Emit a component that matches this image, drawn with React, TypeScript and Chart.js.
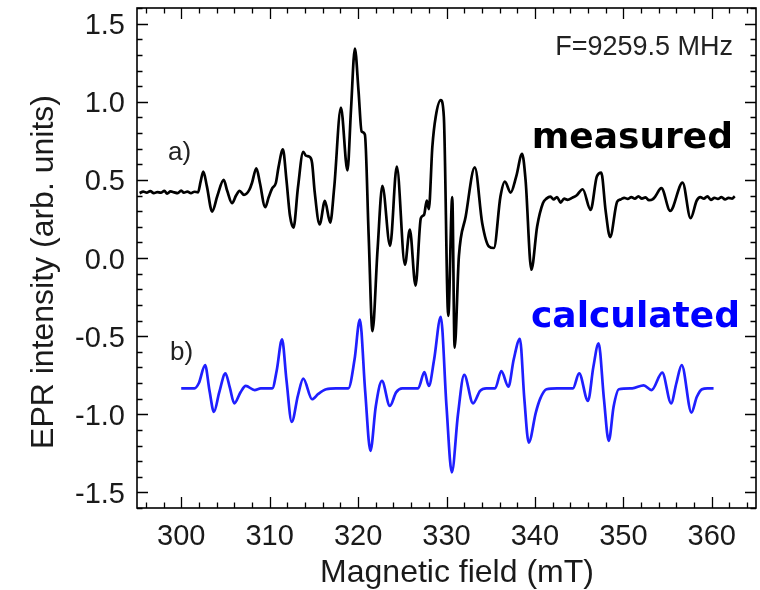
import React, { useEffect, useRef } from "react";
import { Chart, registerables } from "chart.js";

Chart.register(...registerables);

// Measured EPR spectrum (a)
const measuredField = [
  295.3, 295.7, 296.1, 296.5, 296.9, 297.3, 297.7, 298.1, 298.4, 298.8, 299.2, 299.6, 300.0, 300.3, 300.7, 301.1, 301.5, 301.9,
  302.2, 302.5, 302.9, 303.5, 304.1, 304.8, 305.2, 305.75, 306.2, 306.6, 307.1, 307.7, 308.0, 308.5, 308.9, 309.5, 309.9,
  310.3, 310.7, 311.0, 311.5, 311.9, 312.3, 312.7, 313.2, 313.8, 314.1, 314.5, 314.8, 315.1, 315.65, 316.25, 316.85, 317.3,
  318.06, 318.8, 319.2, 319.64, 320.05, 320.4, 320.77, 321.2, 321.63, 322.2, 322.75, 323.62, 324.38, 325.3, 325.85, 326.5,
  327.1, 327.46, 327.77, 328.0, 328.4, 328.78, 329.35, 329.7, 330.2, 330.65, 330.92, 331.4, 332.17, 333.2, 334.04, 334.8,
  335.36, 336.1, 336.6, 337.25, 337.88, 338.55, 338.94, 339.6, 340.25, 340.9, 341.3, 341.76, 342.1, 342.5, 342.9, 343.3,
  343.7, 344.2, 344.7, 345.4, 346.3, 347.0, 347.5, 348.0, 348.5, 349.3, 349.7, 350.1, 350.5, 350.9, 351.3, 351.7, 352.1,
  352.5, 352.9, 353.3, 353.6, 354.3, 355.3, 356.7, 357.6, 358.3, 358.7, 359.1, 359.5, 359.9, 360.3, 360.7, 361.1, 361.5,
  361.9, 362.3, 362.6,
];
const measuredIntensity = [
  0.415, 0.425, 0.418, 0.428, 0.415, 0.422, 0.418, 0.43, 0.412, 0.426, 0.42, 0.415, 0.432, 0.418, 0.425, 0.415, 0.424, 0.42,
  0.49, 0.553, 0.46, 0.297, 0.4, 0.5, 0.43, 0.351, 0.4, 0.43, 0.404, 0.436, 0.48, 0.574, 0.48, 0.325, 0.39,
  0.447, 0.48, 0.58, 0.695, 0.5, 0.27, 0.195, 0.45, 0.68, 0.655, 0.648, 0.608, 0.42, 0.215, 0.365, 0.227, 0.45,
  0.962, 0.56, 0.95, 1.34, 1.07, 0.81, 0.79, 0.14, -0.468, 0.05, 0.461, 0.078, 0.585, -0.043, 0.181, -0.177,
  0.255, 0.276, 0.368, 0.313, 0.712, 0.904, 1.01, 0.904, -0.37, 0.39, -0.574, 0.01, 0.265, 0.58, 0.223, 0.074,
  0.064, 0.393, 0.489, 0.419, 0.521, 0.666, 0.5, -0.075, 0.202, 0.351, 0.38, 0.393, 0.375, 0.39, 0.355, 0.38,
  0.372, 0.385, 0.4, 0.44, 0.308, 0.521, 0.546, 0.3, 0.134, 0.361, 0.375, 0.385, 0.378, 0.39, 0.38, 0.395, 0.38,
  0.388, 0.37, 0.375, 0.393, 0.447, 0.302, 0.483, 0.255, 0.368, 0.39, 0.38, 0.395, 0.372, 0.385, 0.378, 0.39, 0.375,
  0.385, 0.38, 0.395,
];

// Calculated EPR spectrum (b)
const calculatedField = [
  300.0, 301.5, 302.0, 302.7, 303.2, 303.7, 304.3, 305.0, 305.5, 306.0, 306.7, 307.3, 308.3, 309.0, 310.3, 310.8, 311.4,
  311.9, 312.5, 313.2, 313.8, 314.8, 315.5, 316.4, 317.5, 318.9, 319.6, 320.2, 320.8, 321.4, 322.0, 322.7, 323.6, 324.3,
  325.0, 326.8, 327.5, 328.0, 328.6, 329.35, 330.0, 330.6, 331.3, 332.0, 333.0, 333.8, 334.5, 335.5, 336.2, 337.0, 337.6,
  338.3, 338.8, 339.3, 340.1, 340.6, 341.3, 342.5, 344.3, 345.0, 346.0, 346.6, 347.2, 347.8, 348.35, 348.9, 349.5, 351.0,
  352.3, 353.2, 354.4, 355.4, 356.0, 356.6, 357.7, 358.3, 358.9, 359.5, 360.2,
];
const calculatedIntensity = [
  -0.834, -0.834, -0.8, -0.685, -0.85, -0.985, -0.86, -0.738, -0.83, -0.93, -0.86, -0.819, -0.845, -0.834, -0.834, -0.72, -0.521,
  -0.78, -1.049, -0.88, -0.772, -0.904, -0.87, -0.84, -0.834, -0.834, -0.65, -0.394, -0.85, -1.234, -0.95, -0.787, -0.947, -0.86,
  -0.834, -0.834, -0.73, -0.819, -0.65, -0.377, -0.95, -1.372, -1.0, -0.748, -0.93, -0.85, -0.834, -0.834, -0.724, -0.823, -0.65,
  -0.517, -0.9, -1.181, -0.989, -0.9, -0.84, -0.834, -0.834, -0.738, -0.915, -0.7, -0.547, -0.9, -1.17, -0.95, -0.84, -0.834,
  -0.815, -0.845, -0.734, -0.93, -0.8, -0.685, -0.989, -0.89, -0.84, -0.834, -0.834,
];

// Axis tick labels
const xTickLabels = [300, 310, 320, 330, 340, 350, 360];
const yTickLabels = [-1.5, -1.0, -0.5, 0.0, 0.5, 1.0, 1.5];

const FONT = '"Liberation Sans", Arial, sans-serif';

const framePlugin = {
  id: "frameAndTicks",
  afterDraw(chart: any) {
    const { ctx, chartArea: a } = chart;
    const xs = chart.scales.x;
    const ys = chart.scales.y;
    ctx.save();
    ctx.strokeStyle = "#000";
    ctx.lineWidth = 1.3;
    ctx.beginPath();
    for (let v = 296; v <= 364.001; v += 2) {
      const px = Math.round(xs.getPixelForValue(v)) + 0.5;
      const major = Math.abs(v / 10 - Math.round(v / 10)) < 1e-6;
      const len = major ? 11 : 5.5;
      ctx.moveTo(px, a.bottom);
      ctx.lineTo(px, a.bottom - len);
      ctx.moveTo(px, a.top);
      ctx.lineTo(px, a.top + len);
    }
    for (let i = -16; i <= 16; i++) {
      const v = i / 10;
      const py = Math.round(ys.getPixelForValue(v)) + 0.5;
      const major = i % 5 === 0;
      const len = major ? 11 : 5.5;
      ctx.moveTo(a.left, py);
      ctx.lineTo(a.left + len, py);
      ctx.moveTo(a.right, py);
      ctx.lineTo(a.right - len, py);
    }
    ctx.stroke();
    ctx.lineWidth = 1.6;
    ctx.strokeRect(a.left, a.top, a.right - a.left, a.bottom - a.top);

    // tick labels
    ctx.fillStyle = "#1a1a1a";
    ctx.font = `29px ${FONT}`;
    ctx.textBaseline = "alphabetic";
    ctx.textAlign = "center";
    xTickLabels.forEach((v) => {
      ctx.fillText(String(v), xs.getPixelForValue(v), 545);
    });
    ctx.textAlign = "right";
    yTickLabels.forEach((v) => {
      ctx.fillText(v.toFixed(1), 125, ys.getPixelForValue(v) + 10.5);
    });

    // axis titles
    ctx.font = `32px ${FONT}`;
    ctx.textAlign = "center";
    ctx.fillText("Magnetic field (mT)", 457, 582);
    ctx.save();
    ctx.translate(53, 272);
    ctx.rotate(-Math.PI / 2);
    ctx.fillText("EPR intensity (arb. units)", 0, 0);
    ctx.restore();

    // annotations
    ctx.textAlign = "right";
    ctx.fillStyle = "#222";
    ctx.font = `27px ${FONT}`;
    ctx.fillText("F=9259.5 MHz", 733, 55);
    ctx.fillStyle = "#000";
    ctx.font = 'bold 36px "DejaVu Sans", Verdana, sans-serif';
    ctx.fillText("measured", 733, 148);
    ctx.fillStyle = "#0000ff";
    ctx.fillText("calculated", 740, 327);
    ctx.textAlign = "left";
    ctx.fillStyle = "#222";
    ctx.font = `26px ${FONT}`;
    ctx.fillText("a)", 168, 160);
    ctx.fillText("b)", 170, 360);
    ctx.restore();
  },
};

export default function App() {
  const ref = useRef<HTMLCanvasElement | null>(null);
  useEffect(() => {
    if (!ref.current) return;
    const measured = measuredField.map((x, i) => ({ x, y: measuredIntensity[i] }));
    const calculated = calculatedField.map((x, i) => ({ x, y: calculatedIntensity[i] }));
    const chart = new Chart(ref.current, {
      type: "line",
      data: {
        datasets: [
          {
            label: "measured",
            data: measured,
            borderColor: "#000000",
            borderWidth: 2.7,
            pointRadius: 0,
            cubicInterpolationMode: "monotone",
            fill: false,
          },
          {
            label: "calculated",
            data: calculated,
            borderColor: "#1f1fff",
            borderWidth: 2.7,
            pointRadius: 0,
            cubicInterpolationMode: "monotone",
            fill: false,
          },
        ],
      },
      options: {
        animation: false,
        responsive: false,
        devicePixelRatio: 1,
        layout: { padding: { top: 8, right: 4, left: 0, bottom: 0 } },
        plugins: { legend: { display: false }, tooltip: { enabled: false } },
        scales: {
          x: {
            type: "linear",
            min: 295,
            max: 365,
            grid: { display: false },
            border: { display: false },
            ticks: { display: false },
            afterFit: (s: any) => {
              s.height = 82;
            },
          },
          y: {
            type: "linear",
            min: -1.6,
            max: 1.6,
            grid: { display: false },
            border: { display: false },
            ticks: { display: false },
            afterFit: (s: any) => {
              s.width = 137;
            },
          },
        },
      },
      plugins: [framePlugin],
    } as any);
    return () => chart.destroy();
  }, []);
  return (
    <div style={{ position: "absolute", left: 0, top: 0, width: 760, height: 590, background: "#fff" }}>
      <canvas ref={ref} width={760} height={590} style={{ width: 760, height: 590, display: "block" }} />
    </div>
  );
}
